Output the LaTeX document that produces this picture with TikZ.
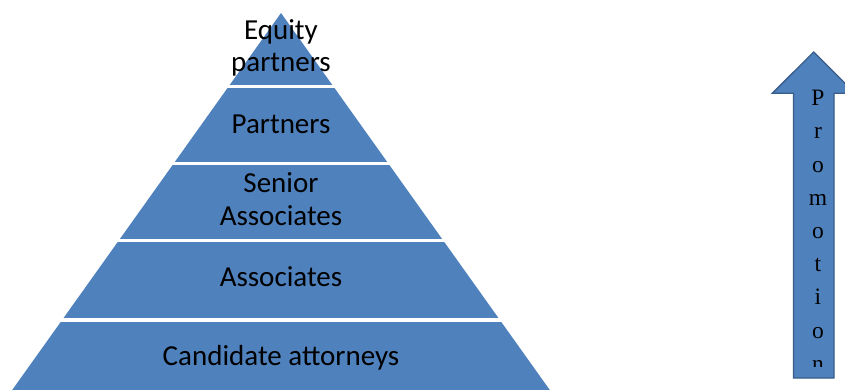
\documentclass[tikz,border=0pt]{standalone}
\usepackage{fontspec}
\setmainfont{Carlito}
\newfontfamily\promofont{Liberation Serif}

\definecolor{layerblue}{HTML}{4F81BD}
\definecolor{edgeblue}{HTML}{385D8A}

\tikzset{
  layer/.style={fill=layerblue},
  gap/.style={draw=white, line width=3.5pt},
  level/.style={anchor=base, align=center, inner sep=0pt,
    font=\fontsize{29}{32.3}\selectfont},
  promo/.style={anchor=base, align=center, inner sep=0pt,
    font=\promofont\fontsize{23.5}{33.2}\selectfont}
}

\begin{document}
\begin{tikzpicture}[x=1pt, y=-1pt]

  \useasboundingbox (0,0) rectangle (845,389);
  \clip (0,0) rectangle (845,389);

  % pyramid, cut into levels by white gaps
  \fill[layer] (281,13) -- (281+0.713*386,399) -- (281-0.713*386,399) -- cycle;
  \foreach \y in {86.7,163.5,240.5,320}
    \draw[gap] (0,\y) -- (600,\y);

  % base anchor sits on the last line
  \node[level] (equity) at (281,71.7) {Equity\\partners};
  \node[level] (partners) at (281,133) {Partners};
  \node[level] (senior) at (281,225) {Senior\\Associates};
  \node[level] (associates) at (281,286.7) {Associates};
  \node[level] (candidates) at (281,365) {Candidate attorneys};

  % up arrow
  \draw[fill=layerblue, draw=edgeblue, line width=1.3pt]
    (813.7,52) -- (855,93.3) -- (834,93.3) -- (834,378)
    -- (793.5,378) -- (793.5,93.3) -- (772.3,93.3) -- cycle;

  \begin{scope}
    \clip (760,0) rectangle (845,366);
    \node[promo] (promotion) at (818,371.3) {P\\r\\o\\m\\o\\t\\i\\o\\n};
  \end{scope}

\end{tikzpicture}
\end{document}
